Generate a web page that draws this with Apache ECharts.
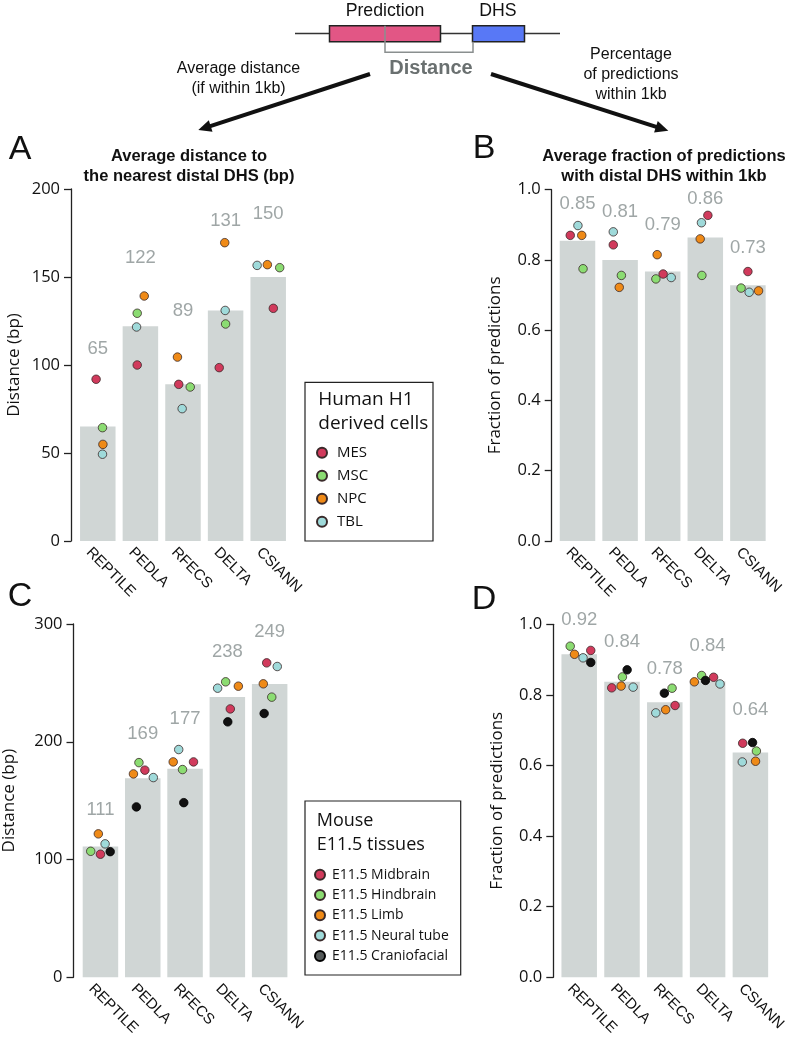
<!DOCTYPE html>
<html>
<head>
<meta charset="utf-8">
<script src="https://cdn.jsdelivr.net/npm/echarts@6/dist/echarts.min.js"></script>
<style>html,body{margin:0;padding:0;background:#fff;}#chart{width:796px;height:1043px;}</style>
</head>
<body>
<div id="chart"></div>
<script>
// ---------- DATA ----------
const categories = ['REPTILE', 'PEDLA', 'RFECS', 'DELTA', 'CSIANN'];

// Panel A: human, average distance (bp)
const aBars = [65, 122, 89, 131, 150];
const aLabels = ['65', '122', '89', '131', '150'];
const aLabelY = [109, 161, 131, 182, 186];
const aMES = [91.9, 100, 89, 98.5, 132.2];
const aMSC = [64.4, 129.4, 87.5, 123.3, 155.3];
const aNPC = [54.9, 139.2, 104.5, 169.5, 157];
const aTBL = [49.3, 121.6, 75.2, 131, 156.6];
const aJitMES = [-0.04, -0.075, -0.10, -0.15, 0.12];
const aJitMSC = [0.11, -0.075, 0.17, 0, 0.27];
const aJitNPC = [0.12, 0.09, -0.13, -0.02, -0.02];
const aJitTBL = [0.11, -0.09, -0.02, -0.01, -0.26];

// Panel B: human, fraction within 1kb
const bBars = [0.855, 0.80, 0.767, 0.864, 0.728];
const bLabels = ['0.85', '0.81', '0.79', '0.86', '0.73'];
const bLabelY = [0.96, 0.936, 0.90, 0.974, 0.835];
const bMES = [0.870, 0.843, 0.760, 0.927, 0.767];
const bMSC = [0.775, 0.756, 0.746, 0.756, 0.720];
const bNPC = [0.870, 0.722, 0.815, 0.860, 0.712];
const bTBL = [0.898, 0.880, 0.750, 0.906, 0.708];
const bJitMES = [-0.17, -0.16, 0.01, 0.06, 0];
const bJitMSC = [0.13, 0.03, -0.16, -0.08, -0.16];
const bJitNPC = [0.10, -0.02, -0.13, -0.12, 0.25];
const bJitTBL = [0.01, -0.16, 0.20, -0.09, 0.03];

// Panel C: mouse, average distance (bp)
const cBars = [111, 169, 177, 238, 249];
const cLabels = ['111', '169', '177', '238', '249'];
const cLabelY = [142, 207, 219, 276, 293];
const cMid = [104.5, 175.9, 182.9, 227.9, 267];
const cHind = [107, 182.3, 176.4, 250.9, 237.9];
const cLimb = [121.8, 172.7, 182.9, 247.2, 249.2];
const cNeural = [113.3, 169.6, 193.4, 245.5, 263.9];
const cCranio = [106.7, 144.7, 148.3, 216.9, 224];
const cJitMid = [0, 0.05, 0.20, 0.07, -0.07];
const cJitHind = [-0.23, -0.09, -0.06, -0.04, 0.05];
const cJitLimb = [-0.05, -0.22, -0.28, 0.26, -0.15];
const cJitNeural = [0.11, 0.25, -0.15, -0.23, 0.18];
const cJitCranio = [0.23, -0.15, -0.03, 0.01, -0.13];

// Panel D: mouse, fraction within 1kb
const dBars = [0.915, 0.837, 0.779, 0.839, 0.637];
const dLabels = ['0.92', '0.84', '0.78', '0.84', '0.64'];
const dLabelY = [1.012, 0.949, 0.873, 0.939, 0.757];
const dMid = [0.926, 0.820, 0.770, 0.850, 0.663];
const dHind = [0.938, 0.851, 0.819, 0.855, 0.641];
const dLimb = [0.915, 0.825, 0.758, 0.837, 0.612];
const dNeural = [0.905, 0.822, 0.749, 0.831, 0.610];
const dCranio = [0.892, 0.871, 0.805, 0.841, 0.665];
const dJitMid = [0.27, -0.24, 0.24, 0.14, -0.18];
const dJitHind = [-0.21, 0.01, 0.17, -0.14, 0.14];
const dJitLimb = [-0.11, -0.02, 0.02, -0.31, 0.12];
const dJitNeural = [0.09, 0.26, -0.21, 0.29, -0.19];
const dJitCranio = [0.27, 0.12, -0.01, -0.05, 0.05];

const humanNames = ['MES', 'MSC', 'NPC', 'TBL'];
const mouseNames = ['E11.5 Midbrain', 'E11.5 Hindbrain', 'E11.5 Limb', 'E11.5 Neural tube', 'E11.5 Craniofacial'];

// ---------- STYLE ----------
const COL = { red: '#d13a5c', green: '#8bdc72', orange: '#ef8a17', cyan: '#9fdada', black: '#111111' };
const BAR = '#d0d6d5';
const LABEL = '#879090';
const TICKFONT = 'Open Sans';
const SANS = 'Liberation Sans';

const grids = [
  { left: 76.5, top: 189, width: 213, height: 352 },
  { left: 556.2, top: 189.7, width: 213, height: 351.3 },
  { left: 76.8, top: 624, width: 214, height: 353.3 },
  { left: 557.8, top: 624.3, width: 214, height: 353 }
];
const yOffsets = [5.5, 4.5, 5.8, 4.5];
const yNames = ['Distance (bp)', 'Fraction of predictions', 'Distance (bp)', 'Fraction of predictions'];
const yNameGaps = [48.5, 48.5, 55.5, 48];
const yRanges = [[0, 200, 50], [0, 1, 0.2], [0, 300, 100], [0, 1, 0.2]];

const xAxes = [], yAxes = [], series = [];
grids.forEach((g, i) => {
  xAxes.push({
    type: 'category', gridIndex: i, data: categories,
    axisLine: { show: false }, axisTick: { show: false },
    axisLabel: { rotate: -45, margin: 0, verticalAlign: 'top', lineHeight: 26,
      color: '#111', fontFamily: SANS, fontSize: 15 }
  });
  xAxes.push({ type: 'value', gridIndex: i, min: -0.5, max: 4.5, show: false });
  const r = yRanges[i];
  yAxes.push({
    type: 'value', gridIndex: i, min: r[0], max: r[1], interval: r[2], offset: yOffsets[i],
    name: yNames[i], nameLocation: 'middle', nameGap: yNameGaps[i],
    nameTextStyle: { fontFamily: TICKFONT, fontSize: 17, color: '#111' },
    axisLine: { show: true, onZero: false, lineStyle: { color: '#222', width: 1.3 } },
    axisTick: { show: true, length: 7, lineStyle: { color: '#222', width: 1.3 } },
    splitLine: { show: false },
    axisLabel: {
      margin: 11, color: '#111', fontFamily: TICKFONT, fontSize: 16.5,
      formatter: v => (r[2] < 1 ? v.toFixed(1) : String(v))
    }
  });
});

function barSeries(gi, vals) {
  series.push({
    type: 'bar', xAxisIndex: gi * 2, yAxisIndex: gi, data: vals,
    barWidth: 35.5, itemStyle: { color: BAR }, silent: true, z: 1
  });
}
function labelSeries(gi, texts, ys) {
  series.push({
    type: 'scatter', xAxisIndex: gi * 2 + 1, yAxisIndex: gi, clip: false,
    symbolSize: 0, silent: true, z: 5,
    data: ys.map((y, k) => ({ value: [k, y], label: { formatter: texts[k] } })),
    label: { show: true, position: 'inside', color: LABEL, fontFamily: SANS, fontSize: 18.5 }
  });
}
function dotSeries(gi, name, vals, jit, color, border) {
  series.push({
    type: 'scatter', name: name, xAxisIndex: gi * 2 + 1, yAxisIndex: gi, clip: false,
    symbol: 'circle', symbolSize: 8.5, z: 10,
    itemStyle: { color: color, borderColor: border || '#3a2a2a', borderWidth: 0.8, opacity: 1 },
    data: vals.map((v, k) => [k + jit[k], v])
  });
}

barSeries(0, aBars); labelSeries(0, aLabels, aLabelY);
dotSeries(0, 'MES', aMES, aJitMES, COL.red);
dotSeries(0, 'MSC', aMSC, aJitMSC, COL.green);
dotSeries(0, 'NPC', aNPC, aJitNPC, COL.orange);
dotSeries(0, 'TBL', aTBL, aJitTBL, COL.cyan);

barSeries(1, bBars); labelSeries(1, bLabels, bLabelY);
dotSeries(1, 'MES', bMES, bJitMES, COL.red);
dotSeries(1, 'MSC', bMSC, bJitMSC, COL.green);
dotSeries(1, 'NPC', bNPC, bJitNPC, COL.orange);
dotSeries(1, 'TBL', bTBL, bJitTBL, COL.cyan);

barSeries(2, cBars); labelSeries(2, cLabels, cLabelY);
dotSeries(2, mouseNames[0], cMid, cJitMid, COL.red);
dotSeries(2, mouseNames[1], cHind, cJitHind, COL.green);
dotSeries(2, mouseNames[2], cLimb, cJitLimb, COL.orange);
dotSeries(2, mouseNames[3], cNeural, cJitNeural, COL.cyan);
dotSeries(2, mouseNames[4], cCranio, cJitCranio, COL.black, '#000');

barSeries(3, dBars); labelSeries(3, dLabels, dLabelY);
dotSeries(3, mouseNames[0], dMid, dJitMid, COL.red);
dotSeries(3, mouseNames[1], dHind, dJitHind, COL.green);
dotSeries(3, mouseNames[2], dLimb, dJitLimb, COL.orange);
dotSeries(3, mouseNames[3], dNeural, dJitNeural, COL.cyan);
dotSeries(3, mouseNames[4], dCranio, dJitCranio, COL.black, '#000');

// ---------- DECORATION (diagram, titles, legend boxes) ----------
function txt(x, y, text, font, fill, align) {
  return { type: 'text', x: x, y: y, silent: true, z: 20,
    style: { text: text, font: font, fill: fill || '#111', align: align || 'center', verticalAlign: 'middle' } };
}
function arrow(x1, y1, x2, y2) {
  const dx = x2 - x1, dy = y2 - y1, L = Math.hypot(dx, dy);
  const ux = dx / L, uy = dy / L, px = -uy, py = ux;
  const hl = 13, hw = 6;
  const bx = x2 - ux * hl, by = y2 - uy * hl;
  return [
    { type: 'line', silent: true, shape: { x1: x1, y1: y1, x2: bx + ux * 2, y2: by + uy * 2 }, style: { stroke: '#111', lineWidth: 4 } },
    { type: 'polygon', silent: true, shape: { points: [[x2, y2], [bx + px * hw, by + py * hw], [bx - px * hw, by - py * hw]] }, style: { fill: '#111' } }
  ];
}
const graphic = [
  // genomic track
  { type: 'line', silent: true, shape: { x1: 295, y1: 33.5, x2: 560, y2: 33.5 }, style: { stroke: '#333', lineWidth: 1.5 } },
  { type: 'rect', silent: true, z: 2, shape: { x: 329.5, y: 25.7, width: 111, height: 16 }, style: { fill: '#e25685', stroke: '#222', lineWidth: 1.5 } },
  { type: 'rect', silent: true, z: 2, shape: { x: 472.5, y: 25.7, width: 52, height: 16 }, style: { fill: '#5878f6', stroke: '#222', lineWidth: 1.5 } },
  { type: 'polyline', silent: true, z: 3, shape: { points: [[385, 25.7], [385, 52.3], [473, 52.3], [473, 41.7]] }, style: { stroke: '#8a8f8f', lineWidth: 1.5, fill: null } },
  txt(385, 11, 'Prediction', '17.7px ' + SANS),
  txt(498, 11, 'DHS', '17.7px ' + SANS),
  txt(431, 68.5, 'Distance', 'bold 20px ' + SANS, '#6a7070'),
  txt(238.5, 69, 'Average distance', '16px ' + SANS),
  txt(238.5, 88.5, '(if within 1kb)', '16px ' + SANS),
  txt(631, 55, 'Percentage', '16px ' + SANS),
  txt(631, 75, 'of predictions', '16px ' + SANS),
  txt(631, 94.5, 'within 1kb', '16px ' + SANS),
  ...arrow(370, 74, 198.3, 130),
  ...arrow(491, 74, 668.3, 130.7),
  // panel letters
  txt(20, 150, 'A', '34px ' + SANS),
  txt(484, 148.5, 'B', '34px ' + SANS),
  txt(20, 597, 'C', '34px ' + SANS),
  txt(484, 600, 'D', '34px ' + SANS),
  // panel titles
  txt(189, 156.7, 'Average distance to', 'bold 16.5px ' + SANS),
  txt(189, 176.7, 'the nearest distal DHS (bp)', 'bold 16.5px ' + SANS),
  txt(664, 156.7, 'Average fraction of predictions', 'bold 16.5px ' + SANS),
  txt(664, 176.7, 'with distal DHS within 1kb', 'bold 16.5px ' + SANS),
  // legend boxes and titles
  { type: 'rect', silent: true, shape: { x: 305, y: 382.3, width: 128, height: 158.7 }, style: { fill: '#fff', stroke: '#222', lineWidth: 1.2 }, z: 0 },
  txt(318.3, 400, 'Human H1', '19px ' + TICKFONT, '#111', 'left'),
  txt(318.3, 423.3, 'derived cells', '19px ' + TICKFONT, '#111', 'left'),
  { type: 'rect', silent: true, shape: { x: 305, y: 801, width: 155.7, height: 174 }, style: { fill: '#fff', stroke: '#222', lineWidth: 1.2 }, z: 0 },
  txt(316.7, 821, 'Mouse', '18px ' + TICKFONT, '#111', 'left'),
  txt(316.7, 845, 'E11.5 tissues', '18px ' + TICKFONT, '#111', 'left')
];

const option = {
  backgroundColor: '#ffffff',
  animation: false,
  grid: grids,
  xAxis: xAxes,
  yAxis: yAxes,
  legend: [
    {
      data: humanNames, orient: 'vertical', left: 316, top: 445.2, padding: 0,
      itemWidth: 10, itemHeight: 10, itemGap: 8, icon: 'circle', selectedMode: false,
      textStyle: { fontFamily: TICKFONT, fontSize: 15, color: '#111', padding: [0, 0, 0, 5] }
    },
    {
      data: mouseNames.map((n, k) => k === 4 ? { name: n, itemStyle: { color: '#555a5a' } } : n),
      orient: 'vertical', left: 314, top: 867.7, padding: 0,
      itemWidth: 10, itemHeight: 10, itemGap: 6.3, icon: 'circle', selectedMode: false,
      textStyle: { fontFamily: TICKFONT, fontSize: 14, color: '#111', padding: [0, 0, 0, 2] }
    }
  ],
  graphic: graphic,
  series: series
};
const chart = echarts.init(document.getElementById('chart'), null, { renderer: 'canvas' });
chart.setOption(option);
</script>
</body>
</html>
